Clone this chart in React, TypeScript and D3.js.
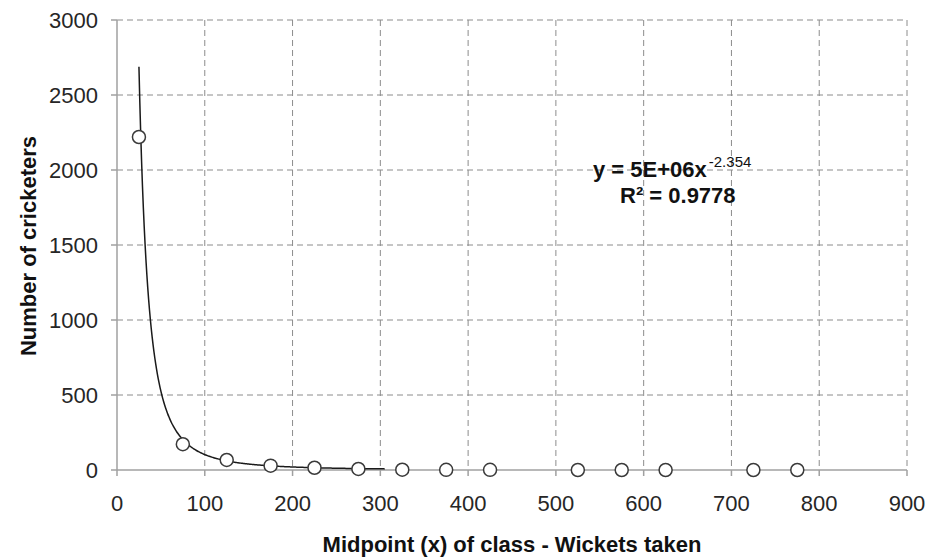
import React from "react";
import * as d3 from "d3";

// Class midpoints (wickets taken) and number of cricketers in each class
const midpoints = [25, 75, 125, 175, 225, 275, 325, 375, 425, 525, 575, 625, 725, 775];
const cricketers = [2220, 172, 67, 29, 15, 7, 2, 1, 1, 0, 0, 0, 0, 0];

const xTicks = [0, 100, 200, 300, 400, 500, 600, 700, 800, 900];
const yTicks = [0, 500, 1000, 1500, 2000, 2500, 3000];

// Power trendline y = a * x^b
const trendA = 5.25e6;
const trendB = -2.354;
const trendRange = [25, 305];

const W = 930;
const H = 557;
const font = "'Liberation Sans', Arial, sans-serif";

export default function App() {
  const x = d3.scaleLinear().domain([0, 900]).range([117, 907]);
  const y = d3.scaleLinear().domain([0, 3000]).range([470, 20]);

  const trendXs = d3.range(trendRange[0], trendRange[1] + 0.5, 1);
  const line = d3
    .line<number>()
    .x((d) => x(d))
    .y((d) => y(trendA * Math.pow(d, trendB)))
    .curve(d3.curveMonotoneX);

  const x0 = x(0);
  const y0 = y(0);
  const gridColor = "#8c8c8c";
  const axisColor = "#a0a0a0";
  const textColor = "#262626";

  return (
    <svg width={W} height={H} style={{ position: "absolute", left: 0, top: 0, background: "#fff" }}>
      {/* dashed grid */}
      <g stroke={gridColor} strokeWidth={1} strokeDasharray="6,4">
        {xTicks.slice(1).map((t) => (
          <line key={"gx" + t} x1={x(t)} x2={x(t)} y1={y(3000)} y2={y0} />
        ))}
        {yTicks.slice(1).map((t) => (
          <line key={"gy" + t} x1={x0} x2={x(900)} y1={y(t)} y2={y(t)} />
        ))}
      </g>

      {/* axes */}
      <g stroke={axisColor} strokeWidth={1.5}>
        <line x1={x0} x2={x0} y1={y(3000)} y2={y0} />
        <line x1={x0} x2={x(900)} y1={y0} y2={y0} />
        {yTicks.map((t) => (
          <line key={"ty" + t} x1={x0 - 6} x2={x0} y1={y(t)} y2={y(t)} />
        ))}
        {xTicks.map((t) => (
          <line key={"tx" + t} x1={x(t)} x2={x(t)} y1={y0} y2={y0 + 6} />
        ))}
      </g>

      {/* tick labels */}
      <g fontFamily={font} fontSize={22} fill={textColor}>
        {yTicks.map((t) => (
          <text key={"ly" + t} x={x0 - 19} y={y(t) + 8} textAnchor="end">
            {t}
          </text>
        ))}
        {xTicks.map((t) => (
          <text key={"lx" + t} x={x(t)} y={y0 + 41} textAnchor="middle">
            {t}
          </text>
        ))}
      </g>

      {/* axis titles */}
      <text
        x={512}
        y={552}
        textAnchor="middle"
        fontFamily={font}
        fontSize={22}
        fontWeight="bold"
        fill="#111"
      >
        Midpoint (x) of class - Wickets taken
      </text>
      <text
        transform={`translate(36, 246) rotate(-90)`}
        textAnchor="middle"
        fontFamily={font}
        fontSize={22}
        fontWeight="bold"
        fill="#111"
      >
        Number of cricketers
      </text>

      {/* trendline */}
      <path d={line(trendXs) || ""} fill="none" stroke="#1a1a1a" strokeWidth={1.5} />

      {/* data points */}
      <g>
        {midpoints.map((m, i) => (
          <circle
            key={"p" + i}
            cx={x(m)}
            cy={y(cricketers[i])}
            r={6.5}
            fill="#fff"
            stroke="#3a3a3a"
            strokeWidth={1.5}
          />
        ))}
      </g>

      {/* trendline equation */}
      <g fontFamily={font} fontWeight="bold" fill="#111">
        <text x={593} y={177} fontSize={22}>
          y = 5E+06x
          <tspan dy={-10} dx={2} fontSize={15} fontWeight="normal">-2.354</tspan>
        </text>
        <text x={620} y={203} fontSize={22}>
          R² = 0.9778
        </text>
      </g>
    </svg>
  );
}
